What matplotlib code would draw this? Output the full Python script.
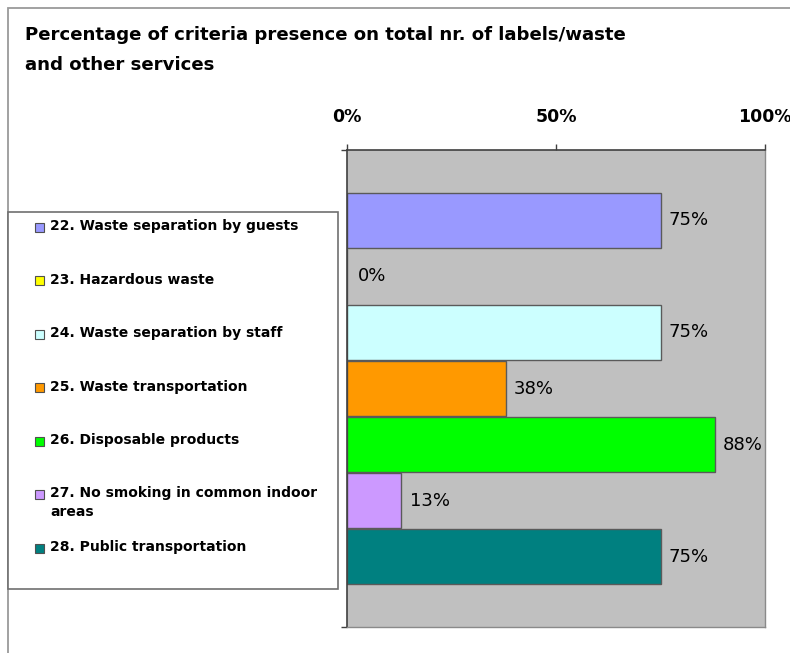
import matplotlib
matplotlib.use("Agg")
import matplotlib.pyplot as plt
from matplotlib.patches import Rectangle

plt.rcParams["font.family"] = ["DejaVu Sans"]

# data
criteria = ["22. Waste separation by guests", "23. Hazardous waste",
            "24. Waste separation by staff", "25. Waste transportation",
            "26. Disposable products", "27. No smoking in common indoor\nareas",
            "28. Public transportation"]
shares = [75, 0, 75, 38, 88, 13, 75]
colors = ["#9999ff", "#ffff00", "#ccffff", "#ff9900", "#00ff00", "#cc99ff", "#008080"]
pct_ticks = [0, 50, 100]

W, H = 790, 653
fig = plt.figure(figsize=(W / 100, H / 100), dpi=100)

# outer chart-area border (runs off the right and bottom edges)
fig.patches.append(Rectangle((8 / W, -0.1), 1.0, 1.1 - 8 / H, transform=fig.transFigure,
                             fill=False, ec="#9a9a9a", lw=1.3))

fig.text(25 / W, 1 - 35 / H, "Percentage of criteria presence on total nr. of labels/waste",
         fontsize=13.1, fontweight="bold", va="center", ha="left")
fig.text(25 / W, 1 - 65 / H, "and other services",
         fontsize=13.1, fontweight="bold", va="center", ha="left")

ax = fig.add_axes([347 / W, 1 - 627 / H, 418 / W, 477 / H])
ax.set_facecolor("#c0c0c0")
n = len(criteria)
ypos = list(range(n))
ax.barh(ypos, shares, height=0.98, color=colors, edgecolor="#5a5a5a", lw=1.0, zorder=2)
ax.set_xlim(0, 100)
ax.set_ylim(n - 1 + 1.25, -1.25)

for y, v in zip(ypos, shares):
    ax.annotate(f"{v}%", (v, y), xytext=(6 if v else 8, 0), textcoords="offset points",
                ha="left", va="center", fontsize=13, zorder=3)

# percentage axis on top
ax.xaxis.tick_top()
ax.set_xticks(pct_ticks)
ax.set_xticklabels([f"{t}%" for t in pct_ticks], fontsize=12.5, fontweight="bold")
ax.tick_params(axis="x", direction="out", length=4.5, width=1, color="#404040", pad=12.5)
ax.set_yticks([-1.25, n - 1 + 1.25])
ax.set_yticklabels([])
ax.tick_params(axis="y", direction="out", length=4, width=1, color="#404040")
for side in ("top", "left"):
    ax.spines[side].set_color("#404040")
    ax.spines[side].set_linewidth(1.2)
for side in ("right", "bottom"):
    ax.spines[side].set_color("#8a8a8a")
    ax.spines[side].set_linewidth(1.0)

# legend box, rows evenly spaced with text hanging from the first line
fig.patches.append(Rectangle((8 / W, 1 - 589 / H), 330 / W, 377 / H, transform=fig.transFigure,
                             fill=True, fc="white", ec="#707070", lw=1.2))
row0, step = 227, 53.5
for i, (lab, c) in enumerate(zip(criteria, colors)):
    yc = row0 + i * step
    fig.patches.append(Rectangle((35 / W, 1 - (yc + 4.5) / H), 9 / W, 9 / H,
                                 transform=fig.transFigure, fc=c, ec="#505050", lw=0.8))
    fig.text(50 / W, 1 - (yc - 8) / H, lab, fontsize=10.0, fontweight="bold",
             va="top", ha="left", linespacing=1.45)

fig.savefig("out.png", dpi=100)
